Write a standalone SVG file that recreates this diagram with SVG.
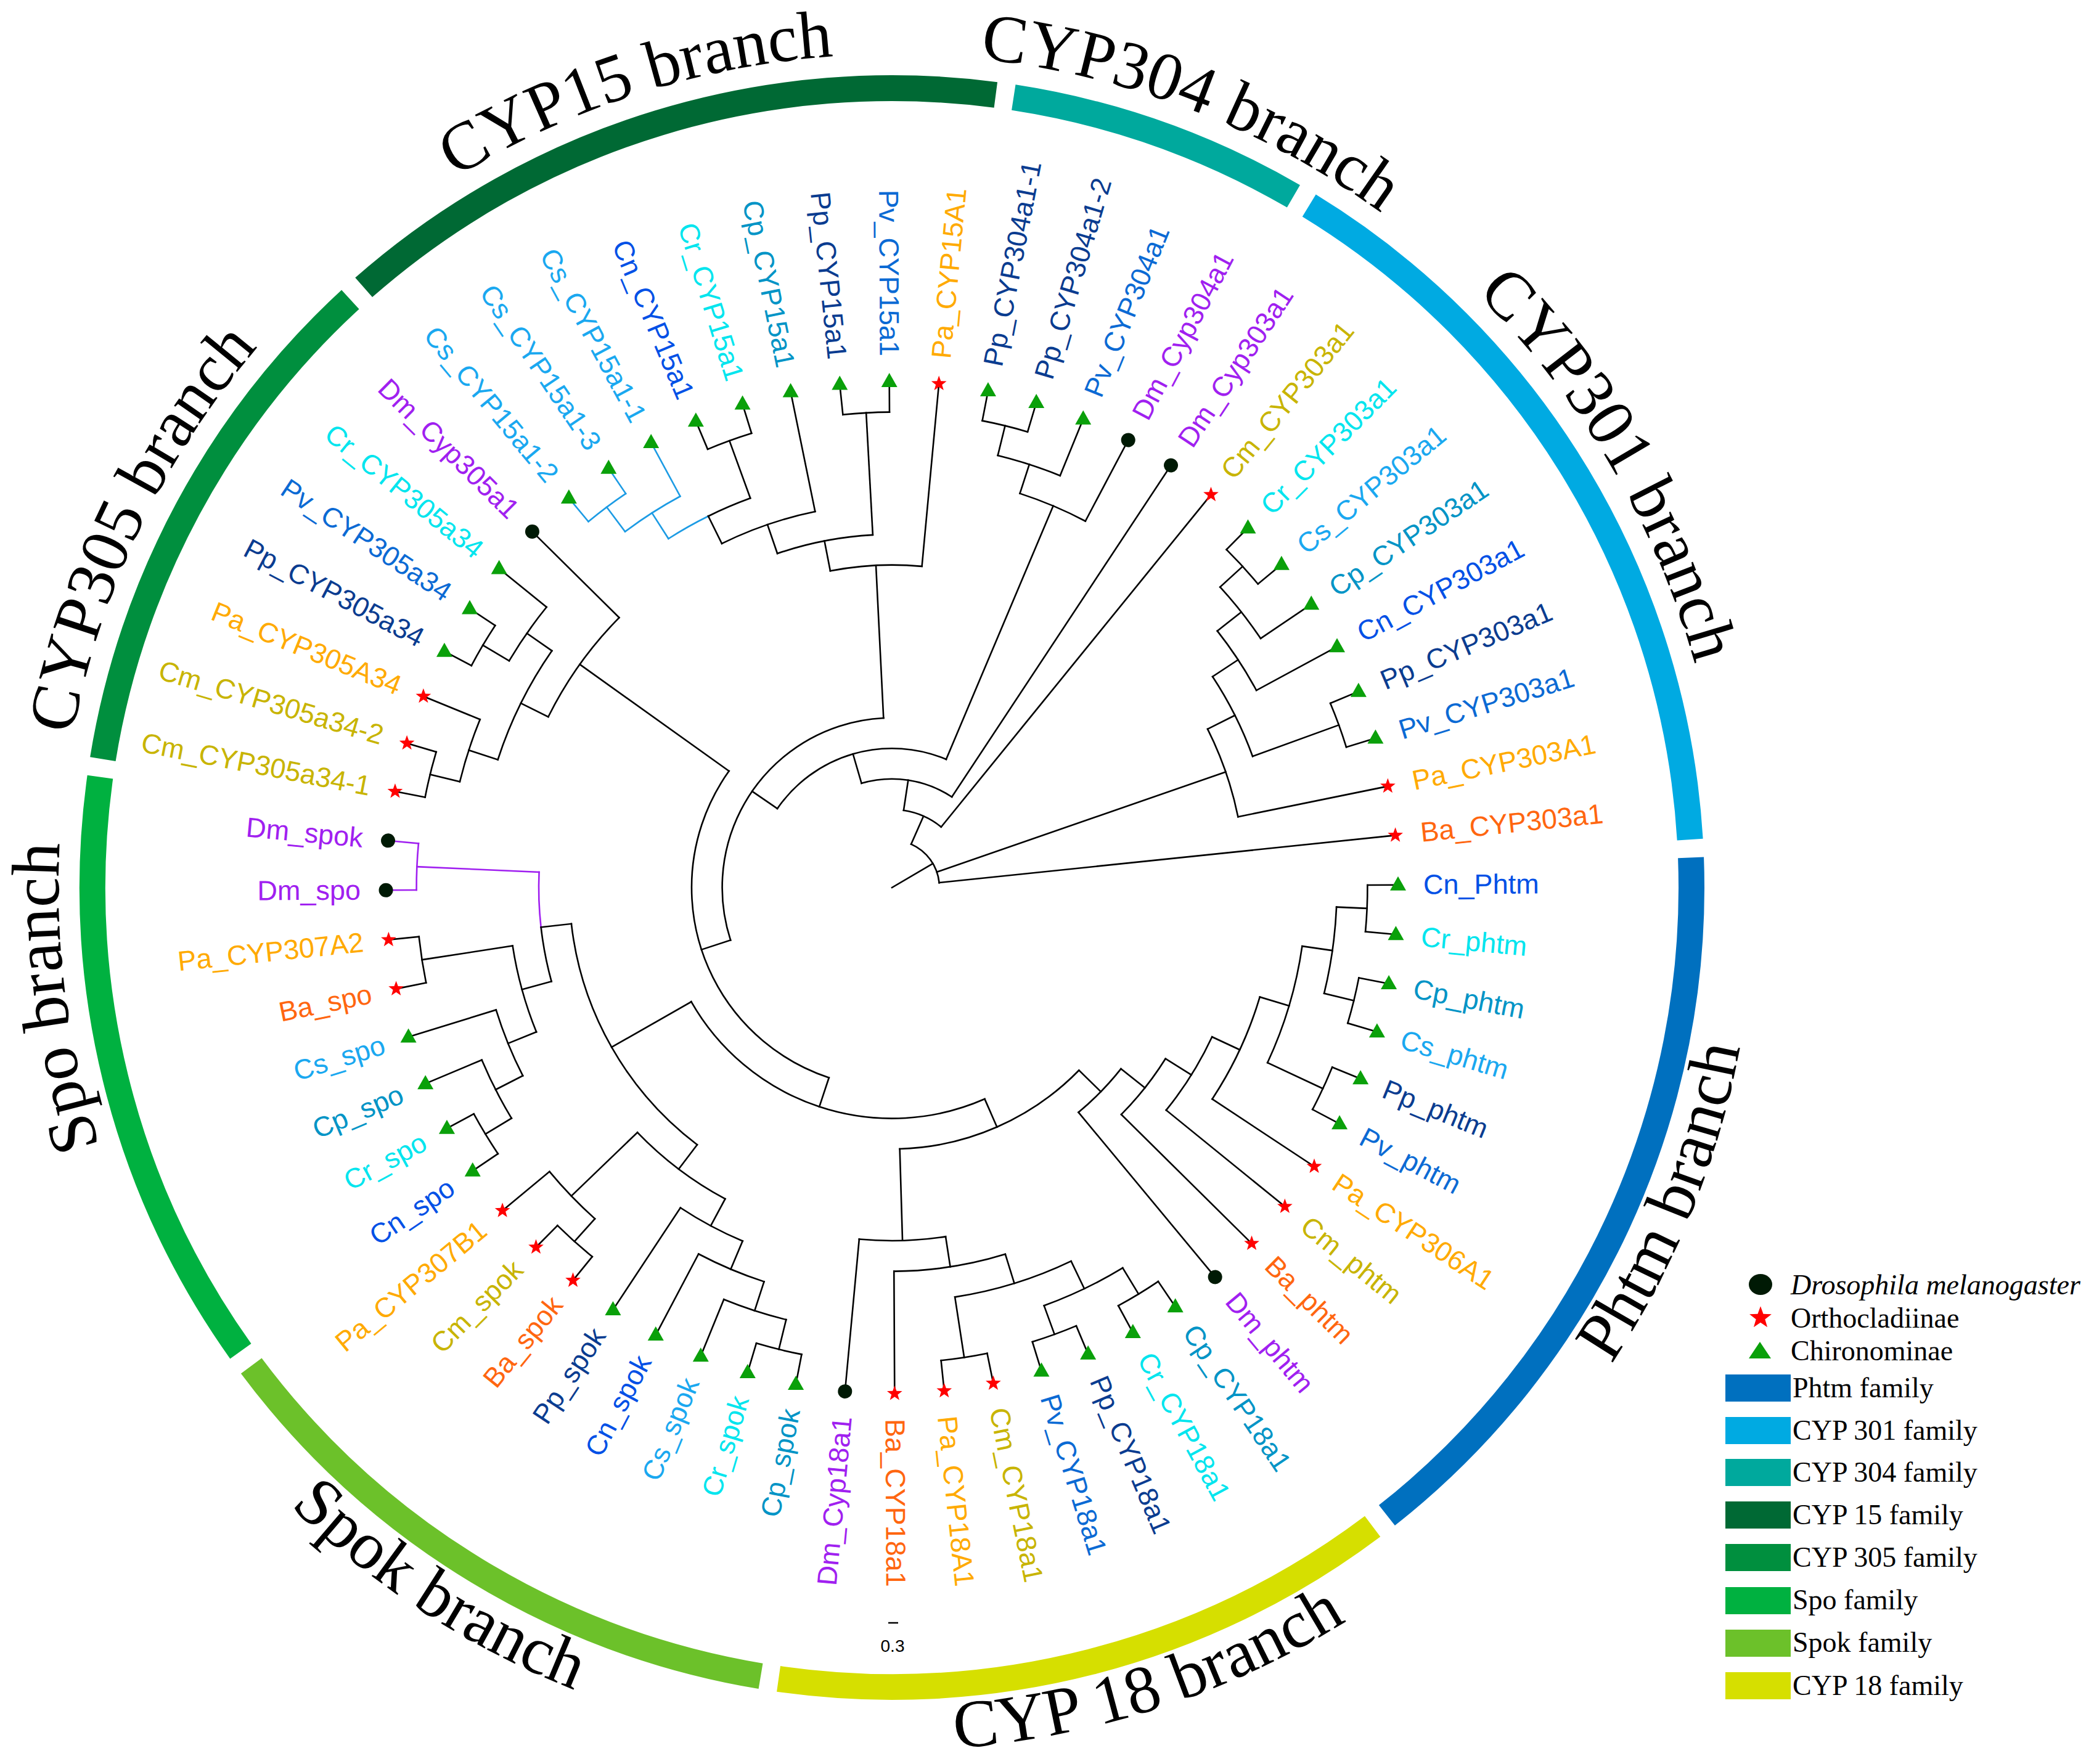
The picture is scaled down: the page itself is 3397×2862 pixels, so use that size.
<svg xmlns="http://www.w3.org/2000/svg" xmlns:xlink="http://www.w3.org/1999/xlink" width="3397" height="2862" viewBox="0 0 3397 2862">
<style>
.br{fill:none;stroke:#000;stroke-width:2.6;stroke-linecap:square}
.br .pu{stroke:#A020F0}
.br .bl{stroke:#1C9BE4}
.ring{fill:none;stroke-width:42}
.lab{font-family:"Liberation Sans",Arial,sans-serif;font-size:45px}
.e{text-anchor:end}
.bt{font-family:"Liberation Serif","Times New Roman",serif;font-size:110px;fill:#000}
.lg{font-family:"Liberation Serif","Times New Roman",serif;font-size:46px;fill:#000}
.Dm{fill:#A020F0}.Pa{fill:#FFAA00}.Cm{fill:#C8B400}.Ba{fill:#FF6610}.Cn{fill:#0050E6}
.Cr{fill:#00E5EE}.Cp{fill:#0094C6}.Cs{fill:#1AA8F0}.Pp{fill:#0A3C90}.Pv{fill:#0B6AD4}
</style>
<defs>
<polygon id="tri" points="0,-14 13,9 -13,9" fill="#0AA00A"/>
<polygon id="star" points="0,-13 3.115,-4.288 12.364,-4.017 5.041,1.638 7.641,10.517 0,5.3 -7.641,10.517 -5.041,1.638 -12.364,-4.017 -3.115,-4.288" fill="#FF0000"/>
<circle id="dot" r="11.5" fill="#001A05"/>
<path id="arcT" d="M-1352 0A1352 1352 0 0 1 1352 0"/>
<path id="arcB" d="M-1400 0A1400 1400 0 0 0 1400 0"/>
</defs>
<rect width="3397" height="2862" fill="#fff"/>

<g id="ring" transform="translate(1447 1440)" class="ring">
<circle r="1297" stroke="#0070BF" stroke-dasharray="1220.1 9999" transform="rotate(-2.15)"/>
<circle r="1297" stroke="#D6DF00" stroke-dasharray="1020.9 9999" transform="rotate(53.05)"/>
<circle r="1297" stroke="#6CC12A" stroke-dasharray="991.5 9999" transform="rotate(99.45)"/>
<circle r="1297" stroke="#00B140" stroke-dasharray="982.4 9999" transform="rotate(144.55)"/>
<circle r="1297" stroke="#008F3E" stroke-dasharray="862.5 9999" transform="rotate(189.25)"/>
<circle r="1297" stroke="#006934" stroke-dasharray="1104.7 9999" transform="rotate(228.65)"/>
<circle r="1297" stroke="#00A99D" stroke-dasharray="484.4 9999" transform="rotate(278.75)"/>
<circle r="1297" stroke="#00AAE2" stroke-dasharray="1247.3 9999" transform="rotate(301.45)"/>
</g>

<g id="branch-labels">
<g transform="translate(1447 1440) rotate(-64.5)"><text class="bt" text-anchor="middle"><textPath href="#arcT" startOffset="50%">CYP305 branch</textPath></text></g>
<g transform="translate(1447 1440) rotate(-17.8)"><text class="bt" text-anchor="middle"><textPath href="#arcT" startOffset="50%">CYP15 branch</textPath></text></g>
<g transform="translate(1447 1440) rotate(21)"><text class="bt" text-anchor="middle"><textPath href="#arcT" startOffset="50%">CYP304 branch</textPath></text></g>
<g transform="translate(1447 1440) rotate(59.5)"><text class="bt" text-anchor="middle"><textPath href="#arcT" startOffset="50%">CYP301 branch</textPath></text></g>
<g transform="translate(1447 1440) rotate(-97.5)"><text class="bt" text-anchor="middle"><textPath href="#arcT" startOffset="50%">Spo branch</textPath></text></g>
<g transform="translate(1447 1440) rotate(-67.9)"><text class="bt" text-anchor="middle"><textPath href="#arcB" startOffset="50%">Phtm branch</textPath></text></g>
<g transform="translate(1447 1440) rotate(-18)"><text class="bt" text-anchor="middle"><textPath href="#arcB" startOffset="50%">CYP 18 branch</textPath></text></g>
<g transform="translate(1447 1440) rotate(32.9)"><text class="bt" text-anchor="middle"><textPath href="#arcB" startOffset="50%">Spok branch</textPath></text></g>
</g>

<g id="tree" transform="translate(1447 1440)">
<g id="connectors" class="br">
<circle r="771.4" stroke-dasharray="75.73 9999" transform="rotate(-0.3)"/>
<circle r="771.4" stroke-dasharray="75.73 9999" transform="rotate(10.95)"/>
<circle r="771.4" stroke-dasharray="75.73 9999" transform="rotate(22.2)"/>
<circle r="721.8" stroke-dasharray="141.72 9999" transform="rotate(2.5125)"/>
<circle r="672.2" stroke-dasharray="197.98 9999" transform="rotate(8.1375)"/>
<circle r="622.6" stroke-dasharray="183.37 9999" transform="rotate(16.575)"/>
<circle r="573" stroke-dasharray="140.64 9999" transform="rotate(25.0125)"/>
<circle r="523.4" stroke-dasharray="115.62 9999" transform="rotate(32.04375)"/>
<circle r="473.8" stroke-dasharray="98.85 9999" transform="rotate(38.371875)"/>
<circle r="771.4" stroke-dasharray="75.73 9999" transform="rotate(55.95)"/>
<circle r="771.4" stroke-dasharray="75.73 9999" transform="rotate(67.2)"/>
<circle r="721.8" stroke-dasharray="141.72 9999" transform="rotate(58.7625)"/>
<circle r="771.4" stroke-dasharray="75.73 9999" transform="rotate(78.45)"/>
<circle r="672.2" stroke-dasharray="197.98 9999" transform="rotate(64.3875)"/>
<circle r="622.6" stroke-dasharray="183.37 9999" transform="rotate(72.825)"/>
<circle r="573" stroke-dasharray="140.64 9999" transform="rotate(81.2625)"/>
<circle r="424.2" stroke-dasharray="325.36 9999" transform="rotate(44.3484)"/>
<circle r="771.4" stroke-dasharray="75.73 9999" transform="rotate(100.95)"/>
<circle r="721.8" stroke-dasharray="106.29 9999" transform="rotate(103.7625)"/>
<circle r="672.2" stroke-dasharray="115.49 9999" transform="rotate(107.98125)"/>
<circle r="622.6" stroke-dasharray="114.61 9999" transform="rotate(112.903125)"/>
<circle r="771.4" stroke-dasharray="75.73 9999" transform="rotate(129.075)"/>
<circle r="721.8" stroke-dasharray="106.29 9999" transform="rotate(131.8875)"/>
<circle r="573" stroke-dasharray="179.31 9999" transform="rotate(118.1766)"/>
<circle r="771.4" stroke-dasharray="75.73 9999" transform="rotate(145.95)"/>
<circle r="721.8" stroke-dasharray="106.29 9999" transform="rotate(148.7625)"/>
<circle r="672.2" stroke-dasharray="115.49 9999" transform="rotate(152.98125)"/>
<circle r="771.4" stroke-dasharray="75.73 9999" transform="rotate(168.45)"/>
<circle r="622.6" stroke-dasharray="145.17 9999" transform="rotate(157.9031)"/>
<circle class="pu" r="771.4" stroke-dasharray="75.73 9999" transform="rotate(179.7)"/>
<circle r="573" stroke-dasharray="89.65 9999" transform="rotate(164.5828)"/>
<circle class="pu" r="573" stroke-dasharray="89.65 9999" transform="rotate(173.5477)"/>
<circle r="523.4" stroke-dasharray="423.92 9999" transform="rotate(127.1414)"/>
<circle r="374.6" stroke-dasharray="549.35 9999" transform="rotate(66.3211)"/>
<circle r="771.4" stroke-dasharray="75.73 9999" transform="rotate(190.95)"/>
<circle r="721.8" stroke-dasharray="106.29 9999" transform="rotate(193.7625)"/>
<circle r="771.4" stroke-dasharray="75.73 9999" transform="rotate(207.825)"/>
<circle r="721.8" stroke-dasharray="106.29 9999" transform="rotate(210.6375)"/>
<circle r="672.2" stroke-dasharray="197.98 9999" transform="rotate(197.98125)"/>
<circle r="622.6" stroke-dasharray="198.65 9999" transform="rotate(206.41875)"/>
<circle r="325" stroke-dasharray="608.22 9999" transform="rotate(108.3328)"/>
<circle class="bl" r="771.4" stroke-dasharray="75.73 9999" transform="rotate(230.325)"/>
<circle class="bl" r="721.8" stroke-dasharray="106.29 9999" transform="rotate(233.1375)"/>
<circle r="771.4" stroke-dasharray="75.73 9999" transform="rotate(247.2)"/>
<circle class="bl" r="672.2" stroke-dasharray="74.24 9999" transform="rotate(237.35625)"/>
<circle r="672.2" stroke-dasharray="74.24 9999" transform="rotate(243.684375)"/>
<circle r="622.6" stroke-dasharray="160.45 9999" transform="rotate(243.684375)"/>
<circle r="771.4" stroke-dasharray="75.73 9999" transform="rotate(264.075)"/>
<circle r="573" stroke-dasharray="158.21 9999" transform="rotate(251.0672)"/>
<circle r="523.4" stroke-dasharray="149.34 9999" transform="rotate(258.9773)"/>
<circle r="275.4" stroke-dasharray="505.68 9999" transform="rotate(161.9461)"/>
<circle r="771.4" stroke-dasharray="75.73 9999" transform="rotate(280.95)"/>
<circle r="721.8" stroke-dasharray="106.29 9999" transform="rotate(283.7625)"/>
<circle r="672.2" stroke-dasharray="115.49 9999" transform="rotate(287.98125)"/>
<circle r="225.8" stroke-dasharray="308.79 9999" transform="rotate(214.5486)"/>
<circle r="176.2" stroke-dasharray="152.92 9999" transform="rotate(253.7259)"/>
<circle r="126.6" stroke-dasharray="67.36 9999" transform="rotate(278.5879)"/>
<circle r="771.4" stroke-dasharray="75.73 9999" transform="rotate(314.7)"/>
<circle r="721.8" stroke-dasharray="106.29 9999" transform="rotate(317.5125)"/>
<circle r="672.2" stroke-dasharray="115.49 9999" transform="rotate(321.73125)"/>
<circle r="771.4" stroke-dasharray="75.73 9999" transform="rotate(337.2)"/>
<circle r="622.6" stroke-dasharray="145.17 9999" transform="rotate(326.653125)"/>
<circle r="573" stroke-dasharray="151.18 9999" transform="rotate(333.3328)"/>
<circle r="77" stroke-dasharray="80.96 9999" transform="rotate(293.8315)"/>
<path d="M721.8 0H771.4" transform="rotate(2.5125)"/>
<path d="M721.8 0H771.4" transform="rotate(13.7625)"/>
<path d="M672.2 0H721.8" transform="rotate(8.1375)"/>
<path d="M672.2 0H771.4" transform="rotate(25.0125)"/>
<path d="M622.6 0H672.2" transform="rotate(16.575)"/>
<path d="M573 0H622.6" transform="rotate(25.0125)"/>
<path d="M523.4 0H573" transform="rotate(32.04375)"/>
<path d="M473.8 0H523.4" transform="rotate(38.371875)"/>
<path d="M424.2 0H473.8" transform="rotate(44.3484)"/>
<path d="M721.8 0H771.4" transform="rotate(58.7625)"/>
<path d="M721.8 0H771.4" transform="rotate(70.0125)"/>
<path d="M672.2 0H721.8" transform="rotate(64.3875)"/>
<path d="M672.2 0H771.4" transform="rotate(81.2625)"/>
<path d="M622.6 0H672.2" transform="rotate(72.825)"/>
<path d="M573 0H622.6" transform="rotate(81.2625)"/>
<path d="M424.2 0H573" transform="rotate(88.29375)"/>
<path d="M374.6 0H424.2" transform="rotate(66.3211)"/>
<path d="M721.8 0H771.4" transform="rotate(103.7625)"/>
<path d="M672.2 0H721.8" transform="rotate(107.98125)"/>
<path d="M622.6 0H672.2" transform="rotate(112.903125)"/>
<path d="M573 0H622.6" transform="rotate(118.1766)"/>
<path d="M721.8 0H771.4" transform="rotate(131.8875)"/>
<path d="M573 0H721.8" transform="rotate(136.10625)"/>
<path d="M523.4 0H573" transform="rotate(127.1414)"/>
<path d="M721.8 0H771.4" transform="rotate(148.7625)"/>
<path d="M672.2 0H721.8" transform="rotate(152.98125)"/>
<path d="M622.6 0H672.2" transform="rotate(157.903125)"/>
<path d="M622.6 0H771.4" transform="rotate(171.2625)"/>
<path d="M573 0H622.6" transform="rotate(164.5828)"/>
<path class="pu" d="M573 0H771.4" transform="rotate(182.5125)"/>
<path d="M523.4 0H573" transform="rotate(173.5477)"/>
<path d="M374.6 0H523.4" transform="rotate(150.3445)"/>
<path d="M325 0H374.6" transform="rotate(108.3328)"/>
<path d="M721.8 0H771.4" transform="rotate(193.7625)"/>
<path d="M672.2 0H721.8" transform="rotate(197.98125)"/>
<path d="M721.8 0H771.4" transform="rotate(210.6375)"/>
<path d="M672.2 0H721.8" transform="rotate(214.85625)"/>
<path d="M622.6 0H672.2" transform="rotate(206.41875)"/>
<path d="M325 0H622.6" transform="rotate(215.5594)"/>
<path d="M275.4 0H325" transform="rotate(161.9461)"/>
<path class="bl" d="M721.8 0H771.4" transform="rotate(233.1375)"/>
<path class="bl" d="M672.2 0H721.8" transform="rotate(237.35625)"/>
<path d="M672.2 0H771.4" transform="rotate(250.0125)"/>
<path d="M622.6 0H672.2" transform="rotate(243.6844)"/>
<path d="M573 0H622.6" transform="rotate(251.0672)"/>
<path d="M573 0H771.4" transform="rotate(266.8875)"/>
<path d="M523.4 0H573" transform="rotate(258.9773)"/>
<path d="M275.4 0H523.4" transform="rotate(267.1512)"/>
<path d="M225.8 0H275.4" transform="rotate(214.5486)"/>
<path d="M721.8 0H771.4" transform="rotate(283.7625)"/>
<path d="M672.2 0H721.8" transform="rotate(287.98125)"/>
<path d="M225.8 0H672.2" transform="rotate(292.9031)"/>
<path d="M176.2 0H225.8" transform="rotate(253.7259)"/>
<path d="M126.6 0H176.2" transform="rotate(278.5879)"/>
<path d="M77 0H126.6" transform="rotate(293.8315)"/>
<path d="M721.8 0H771.4" transform="rotate(317.5125)"/>
<path d="M672.2 0H721.8" transform="rotate(321.73125)"/>
<path d="M622.6 0H672.2" transform="rotate(326.653125)"/>
<path d="M622.6 0H771.4" transform="rotate(340.0125)"/>
<path d="M573 0H622.6" transform="rotate(333.3328)"/>
<path d="M77 0H573" transform="rotate(340.8914)"/>
<path d="M0 0H77" transform="rotate(329.5993)"/>
<path d="M771.4 0H821" transform="rotate(-0.3)"/>
<path d="M771.4 0H821" transform="rotate(5.325)"/>
<path d="M771.4 0H821" transform="rotate(10.95)"/>
<path d="M771.4 0H821" transform="rotate(16.575)"/>
<path d="M771.4 0H821" transform="rotate(22.2)"/>
<path d="M771.4 0H821" transform="rotate(27.825)"/>
<path d="M622.6 0H821" transform="rotate(33.45)"/>
<path d="M573 0H821" transform="rotate(39.075)"/>
<path d="M523.4 0H821" transform="rotate(44.7)"/>
<path d="M473.8 0H821" transform="rotate(50.325)"/>
<path d="M771.4 0H821" transform="rotate(55.95)"/>
<path d="M771.4 0H821" transform="rotate(61.575)"/>
<path d="M771.4 0H821" transform="rotate(67.2)"/>
<path d="M771.4 0H821" transform="rotate(72.825)"/>
<path d="M771.4 0H821" transform="rotate(78.45)"/>
<path d="M771.4 0H821" transform="rotate(84.075)"/>
<path d="M622.6 0H821" transform="rotate(89.7)"/>
<path d="M573 0H821" transform="rotate(95.325)"/>
<path d="M771.4 0H821" transform="rotate(100.95)"/>
<path d="M771.4 0H821" transform="rotate(106.575)"/>
<path d="M721.8 0H821" transform="rotate(112.2)"/>
<path d="M672.2 0H821" transform="rotate(117.825)"/>
<path d="M622.6 0H821" transform="rotate(123.45)"/>
<path d="M771.4 0H821" transform="rotate(129.075)"/>
<path d="M771.4 0H821" transform="rotate(134.7)"/>
<path d="M721.8 0H821" transform="rotate(140.325)"/>
<path d="M771.4 0H821" transform="rotate(145.95)"/>
<path d="M771.4 0H821" transform="rotate(151.575)"/>
<path d="M721.8 0H821" transform="rotate(157.2)"/>
<path d="M672.2 0H821" transform="rotate(162.825)"/>
<path d="M771.4 0H821" transform="rotate(168.45)"/>
<path d="M771.4 0H821" transform="rotate(174.075)"/>
<path class="pu" d="M771.4 0H821" transform="rotate(179.7)"/>
<path class="pu" d="M771.4 0H821" transform="rotate(185.325)"/>
<path d="M771.4 0H821" transform="rotate(190.95)"/>
<path d="M771.4 0H821" transform="rotate(196.575)"/>
<path d="M721.8 0H821" transform="rotate(202.2)"/>
<path d="M771.4 0H821" transform="rotate(207.825)"/>
<path d="M771.4 0H821" transform="rotate(213.45)"/>
<path d="M721.8 0H821" transform="rotate(219.075)"/>
<path d="M622.6 0H821" transform="rotate(224.7)"/>
<path class="bl" d="M771.4 0H821" transform="rotate(230.325)"/>
<path class="bl" d="M771.4 0H821" transform="rotate(235.95)"/>
<path class="bl" d="M721.8 0H821" transform="rotate(241.575)"/>
<path d="M771.4 0H821" transform="rotate(247.2)"/>
<path d="M771.4 0H821" transform="rotate(252.825)"/>
<path d="M622.6 0H821" transform="rotate(258.45)"/>
<path d="M771.4 0H821" transform="rotate(264.075)"/>
<path d="M771.4 0H821" transform="rotate(269.7)"/>
<path d="M523.4 0H821" transform="rotate(275.325)"/>
<path d="M771.4 0H821" transform="rotate(280.95)"/>
<path d="M771.4 0H821" transform="rotate(286.575)"/>
<path d="M721.8 0H821" transform="rotate(292.2)"/>
<path d="M672.2 0H821" transform="rotate(297.825)"/>
<path d="M176.2 0H821" transform="rotate(303.45)"/>
<path d="M126.6 0H821" transform="rotate(309.075)"/>
<path d="M771.4 0H821" transform="rotate(314.7)"/>
<path d="M771.4 0H821" transform="rotate(320.325)"/>
<path d="M721.8 0H821" transform="rotate(325.95)"/>
<path d="M672.2 0H821" transform="rotate(331.575)"/>
<path d="M771.4 0H821" transform="rotate(337.2)"/>
<path d="M771.4 0H821" transform="rotate(342.825)"/>
<path d="M573 0H821" transform="rotate(348.45)"/>
<path d="M77 0H821" transform="rotate(354.075)"/>
</g>

<g id="leaves">
<g id="L01"><use href="#tri" transform="rotate(-0.3) translate(821) rotate(0.3)"/><text class="lab Cn" transform="rotate(-0.3)" x="862" dy="15">Cn_Phtm</text></g>
<g id="L02"><use href="#tri" transform="rotate(5.325) translate(821) rotate(-5.325)"/><text class="lab Cr" transform="rotate(5.325)" x="862" dy="15">Cr_phtm</text></g>
<g id="L03"><use href="#tri" transform="rotate(10.95) translate(821) rotate(-10.95)"/><text class="lab Cp" transform="rotate(10.95)" x="862" dy="15">Cp_phtm</text></g>
<g id="L04"><use href="#tri" transform="rotate(16.575) translate(821) rotate(-16.575)"/><text class="lab Cs" transform="rotate(16.575)" x="862" dy="15">Cs_phtm</text></g>
<g id="L05"><use href="#tri" transform="rotate(22.2) translate(821) rotate(-22.2)"/><text class="lab Pp" transform="rotate(22.2)" x="862" dy="15">Pp_phtm</text></g>
<g id="L06"><use href="#tri" transform="rotate(27.825) translate(821) rotate(-27.825)"/><text class="lab Pv" transform="rotate(27.825)" x="862" dy="15">Pv_phtm</text></g>
<g id="L07"><use href="#star" transform="rotate(33.45) translate(821) rotate(-33.45)"/><text class="lab Pa" transform="rotate(33.45)" x="862" dy="15">Pa_CYP306A1</text></g>
<g id="L08"><use href="#star" transform="rotate(39.075) translate(821) rotate(-39.075)"/><text class="lab Cm" transform="rotate(39.075)" x="862" dy="15">Cm_phtm</text></g>
<g id="L09"><use href="#star" transform="rotate(44.7) translate(821) rotate(-44.7)"/><text class="lab Ba" transform="rotate(44.7)" x="862" dy="15">Ba_phtm</text></g>
<g id="L10"><use href="#dot" transform="rotate(50.325) translate(821)"/><text class="lab Dm" transform="rotate(50.325)" x="862" dy="15">Dm_phtm</text></g>
<g id="L11"><use href="#tri" transform="rotate(55.95) translate(821) rotate(-55.95)"/><text class="lab Cp" transform="rotate(55.95)" x="862" dy="15">Cp_CYP18a1</text></g>
<g id="L12"><use href="#tri" transform="rotate(61.575) translate(821) rotate(-61.575)"/><text class="lab Cr" transform="rotate(61.575)" x="862" dy="15">Cr_CYP18a1</text></g>
<g id="L13"><use href="#tri" transform="rotate(67.2) translate(821) rotate(-67.2)"/><text class="lab Pp" transform="rotate(67.2)" x="862" dy="15">Pp_CYP18a1</text></g>
<g id="L14"><use href="#tri" transform="rotate(72.825) translate(821) rotate(-72.825)"/><text class="lab Pv" transform="rotate(72.825)" x="862" dy="15">Pv_CYP18a1</text></g>
<g id="L15"><use href="#star" transform="rotate(78.45) translate(821) rotate(-78.45)"/><text class="lab Cm" transform="rotate(78.45)" x="862" dy="15">Cm_CYP18a1</text></g>
<g id="L16"><use href="#star" transform="rotate(84.075) translate(821) rotate(-84.075)"/><text class="lab Pa" transform="rotate(84.075)" x="862" dy="15">Pa_CYP18A1</text></g>
<g id="L17"><use href="#star" transform="rotate(89.7) translate(821) rotate(-89.7)"/><text class="lab Ba" transform="rotate(89.7)" x="862" dy="15">Ba_CYP18a1</text></g>
<g id="L18"><use href="#dot" transform="rotate(95.325) translate(821)"/><text class="lab Dm e" transform="rotate(275.325)" x="-862" dy="15">Dm_Cyp18a1</text></g>
<g id="L19"><use href="#tri" transform="rotate(100.95) translate(821) rotate(-100.95)"/><text class="lab Cp e" transform="rotate(280.95)" x="-862" dy="15">Cp_spok</text></g>
<g id="L20"><use href="#tri" transform="rotate(106.575) translate(821) rotate(-106.575)"/><text class="lab Cr e" transform="rotate(286.575)" x="-862" dy="15">Cr_spok</text></g>
<g id="L21"><use href="#tri" transform="rotate(112.2) translate(821) rotate(-112.2)"/><text class="lab Cs e" transform="rotate(292.2)" x="-862" dy="15">Cs_spok</text></g>
<g id="L22"><use href="#tri" transform="rotate(117.825) translate(821) rotate(-117.825)"/><text class="lab Cn e" transform="rotate(297.825)" x="-862" dy="15">Cn_spok</text></g>
<g id="L23"><use href="#tri" transform="rotate(123.45) translate(821) rotate(-123.45)"/><text class="lab Pp e" transform="rotate(303.45)" x="-862" dy="15">Pp_spok</text></g>
<g id="L24"><use href="#star" transform="rotate(129.075) translate(821) rotate(-129.075)"/><text class="lab Ba e" transform="rotate(309.075)" x="-862" dy="15">Ba_spok</text></g>
<g id="L25"><use href="#star" transform="rotate(134.7) translate(821) rotate(-134.7)"/><text class="lab Cm e" transform="rotate(314.7)" x="-862" dy="15">Cm_spok</text></g>
<g id="L26"><use href="#star" transform="rotate(140.325) translate(821) rotate(-140.325)"/><text class="lab Pa e" transform="rotate(320.325)" x="-862" dy="15">Pa_CYP307B1</text></g>
<g id="L27"><use href="#tri" transform="rotate(145.95) translate(821) rotate(-145.95)"/><text class="lab Cn e" transform="rotate(325.95)" x="-862" dy="15">Cn_spo</text></g>
<g id="L28"><use href="#tri" transform="rotate(151.575) translate(821) rotate(-151.575)"/><text class="lab Cr e" transform="rotate(331.575)" x="-862" dy="15">Cr_spo</text></g>
<g id="L29"><use href="#tri" transform="rotate(157.2) translate(821) rotate(-157.2)"/><text class="lab Cp e" transform="rotate(337.2)" x="-862" dy="15">Cp_spo</text></g>
<g id="L30"><use href="#tri" transform="rotate(162.825) translate(821) rotate(-162.825)"/><text class="lab Cs e" transform="rotate(342.825)" x="-862" dy="15">Cs_spo</text></g>
<g id="L31"><use href="#star" transform="rotate(168.45) translate(821) rotate(-168.45)"/><text class="lab Ba e" transform="rotate(348.45)" x="-862" dy="15">Ba_spo</text></g>
<g id="L32"><use href="#star" transform="rotate(174.075) translate(821) rotate(-174.075)"/><text class="lab Pa e" transform="rotate(354.075)" x="-862" dy="15">Pa_CYP307A2</text></g>
<g id="L33"><use href="#dot" transform="rotate(179.7) translate(821)"/><text class="lab Dm e" transform="rotate(359.7)" x="-862" dy="15">Dm_spo</text></g>
<g id="L34"><use href="#dot" transform="rotate(185.325) translate(821)"/><text class="lab Dm e" transform="rotate(5.325)" x="-862" dy="15">Dm_spok</text></g>
<g id="L35"><use href="#star" transform="rotate(190.95) translate(821) rotate(-190.95)"/><text class="lab Cm e" transform="rotate(10.95)" x="-862" dy="15">Cm_CYP305a34-1</text></g>
<g id="L36"><use href="#star" transform="rotate(196.575) translate(821) rotate(-196.575)"/><text class="lab Cm e" transform="rotate(16.575)" x="-862" dy="15">Cm_CYP305a34-2</text></g>
<g id="L37"><use href="#star" transform="rotate(202.2) translate(821) rotate(-202.2)"/><text class="lab Pa e" transform="rotate(22.2)" x="-862" dy="15">Pa_CYP305A34</text></g>
<g id="L38"><use href="#tri" transform="rotate(207.825) translate(821) rotate(-207.825)"/><text class="lab Pp e" transform="rotate(27.825)" x="-862" dy="15">Pp_CYP305a34</text></g>
<g id="L39"><use href="#tri" transform="rotate(213.45) translate(821) rotate(-213.45)"/><text class="lab Pv e" transform="rotate(33.45)" x="-862" dy="15">Pv_CYP305a34</text></g>
<g id="L40"><use href="#tri" transform="rotate(219.075) translate(821) rotate(-219.075)"/><text class="lab Cr e" transform="rotate(39.075)" x="-862" dy="15">Cr_CYP305a34</text></g>
<g id="L41"><use href="#dot" transform="rotate(224.7) translate(821)"/><text class="lab Dm e" transform="rotate(44.7)" x="-862" dy="15">Dm_Cyp305a1</text></g>
<g id="L42"><use href="#tri" transform="rotate(230.325) translate(821) rotate(-230.325)"/><text class="lab Cs e" transform="rotate(50.325)" x="-862" dy="15">Cs_CYP15a1-2</text></g>
<g id="L43"><use href="#tri" transform="rotate(235.95) translate(821) rotate(-235.95)"/><text class="lab Cs e" transform="rotate(55.95)" x="-862" dy="15">Cs_CYP15a1-3</text></g>
<g id="L44"><use href="#tri" transform="rotate(241.575) translate(821) rotate(-241.575)"/><text class="lab Cs e" transform="rotate(61.575)" x="-862" dy="15">Cs_CYP15a1-1</text></g>
<g id="L45"><use href="#tri" transform="rotate(247.2) translate(821) rotate(-247.2)"/><text class="lab Cn e" transform="rotate(67.2)" x="-862" dy="15">Cn_CYP15a1</text></g>
<g id="L46"><use href="#tri" transform="rotate(252.825) translate(821) rotate(-252.825)"/><text class="lab Cr e" transform="rotate(72.825)" x="-862" dy="15">Cr_CYP15a1</text></g>
<g id="L47"><use href="#tri" transform="rotate(258.45) translate(821) rotate(-258.45)"/><text class="lab Cp e" transform="rotate(78.45)" x="-862" dy="15">Cp_CYP15a1</text></g>
<g id="L48"><use href="#tri" transform="rotate(264.075) translate(821) rotate(-264.075)"/><text class="lab Pp e" transform="rotate(84.075)" x="-862" dy="15">Pp_CYP15a1</text></g>
<g id="L49"><use href="#tri" transform="rotate(269.7) translate(821) rotate(-269.7)"/><text class="lab Pv e" transform="rotate(89.7)" x="-862" dy="15">Pv_CYP15a1</text></g>
<g id="L50"><use href="#star" transform="rotate(275.325) translate(821) rotate(-275.325)"/><text class="lab Pa" transform="rotate(275.325)" x="862" dy="15">Pa_CYP15A1</text></g>
<g id="L51"><use href="#tri" transform="rotate(280.95) translate(821) rotate(-280.95)"/><text class="lab Pp" transform="rotate(280.95)" x="862" dy="15">Pp_CYP304a1-1</text></g>
<g id="L52"><use href="#tri" transform="rotate(286.575) translate(821) rotate(-286.575)"/><text class="lab Pp" transform="rotate(286.575)" x="862" dy="15">Pp_CYP304a1-2</text></g>
<g id="L53"><use href="#tri" transform="rotate(292.2) translate(821) rotate(-292.2)"/><text class="lab Pv" transform="rotate(292.2)" x="862" dy="15">Pv_CYP304a1</text></g>
<g id="L54"><use href="#dot" transform="rotate(297.825) translate(821)"/><text class="lab Dm" transform="rotate(297.825)" x="862" dy="15">Dm_Cyp304a1</text></g>
<g id="L55"><use href="#dot" transform="rotate(303.45) translate(821)"/><text class="lab Dm" transform="rotate(303.45)" x="862" dy="15">Dm_Cyp303a1</text></g>
<g id="L56"><use href="#star" transform="rotate(309.075) translate(821) rotate(-309.075)"/><text class="lab Cm" transform="rotate(309.075)" x="862" dy="15">Cm_CYP303a1</text></g>
<g id="L57"><use href="#tri" transform="rotate(314.7) translate(821) rotate(-314.7)"/><text class="lab Cr" transform="rotate(314.7)" x="862" dy="15">Cr_CYP303a1</text></g>
<g id="L58"><use href="#tri" transform="rotate(320.325) translate(821) rotate(-320.325)"/><text class="lab Cs" transform="rotate(320.325)" x="862" dy="15">Cs_CYP303a1</text></g>
<g id="L59"><use href="#tri" transform="rotate(325.95) translate(821) rotate(-325.95)"/><text class="lab Cp" transform="rotate(325.95)" x="862" dy="15">Cp_CYP303a1</text></g>
<g id="L60"><use href="#tri" transform="rotate(331.575) translate(821) rotate(-331.575)"/><text class="lab Cn" transform="rotate(331.575)" x="862" dy="15">Cn_CYP303a1</text></g>
<g id="L61"><use href="#tri" transform="rotate(337.2) translate(821) rotate(-337.2)"/><text class="lab Pp" transform="rotate(337.2)" x="862" dy="15">Pp_CYP303a1</text></g>
<g id="L62"><use href="#tri" transform="rotate(342.825) translate(821) rotate(-342.825)"/><text class="lab Pv" transform="rotate(342.825)" x="862" dy="15">Pv_CYP303a1</text></g>
<g id="L63"><use href="#star" transform="rotate(348.45) translate(821) rotate(-348.45)"/><text class="lab Pa" transform="rotate(348.45)" x="862" dy="15">Pa_CYP303A1</text></g>
<g id="L64"><use href="#star" transform="rotate(354.075) translate(821) rotate(-354.075)"/><text class="lab Ba" transform="rotate(354.075)" x="862" dy="15">Ba_CYP303a1</text></g>
</g>
</g>

<g id="scale">
<path d="M1441 2633H1457" stroke="#000" stroke-width="2.5"/>
<text x="1448" y="2680" text-anchor="middle" font-family="Liberation Sans, Arial, sans-serif" font-size="28">0.3</text>
</g>

<g id="legend">
<ellipse cx="2856" cy="2084" rx="19" ry="17" fill="#001A05"/>
<text class="lg" x="2905" y="2100" font-style="italic" font-size="45">Drosophila melanogaster</text>
<use href="#star" transform="translate(2856 2138) scale(1.45)"/>
<text class="lg" x="2905" y="2154">Orthocladiinae</text>
<polygon points="2855,2177 2873,2204 2837,2204" fill="#0AA00A"/>
<text class="lg" x="2905" y="2207">Chironominae</text>
<rect x="2799" y="2230" width="106" height="44" fill="#0070BF"/>
<text class="lg" x="2908" y="2267">Phtm family</text>
<rect x="2799" y="2299" width="106" height="44" fill="#00AAE2"/>
<text class="lg" x="2908" y="2336">CYP 301 family</text>
<rect x="2799" y="2367" width="106" height="44" fill="#00A99D"/>
<text class="lg" x="2908" y="2404">CYP 304 family</text>
<rect x="2799" y="2436" width="106" height="44" fill="#006934"/>
<text class="lg" x="2908" y="2473">CYP 15 family</text>
<rect x="2799" y="2505" width="106" height="44" fill="#008F3E"/>
<text class="lg" x="2908" y="2542">CYP 305 family</text>
<rect x="2799" y="2575" width="106" height="44" fill="#00B140"/>
<text class="lg" x="2908" y="2611">Spo family</text>
<rect x="2799" y="2644" width="106" height="44" fill="#6CC12A"/>
<text class="lg" x="2908" y="2680">Spok family</text>
<rect x="2799" y="2713" width="106" height="44" fill="#D6DF00"/>
<text class="lg" x="2908" y="2750">CYP 18 family</text>
</g>
</svg>
